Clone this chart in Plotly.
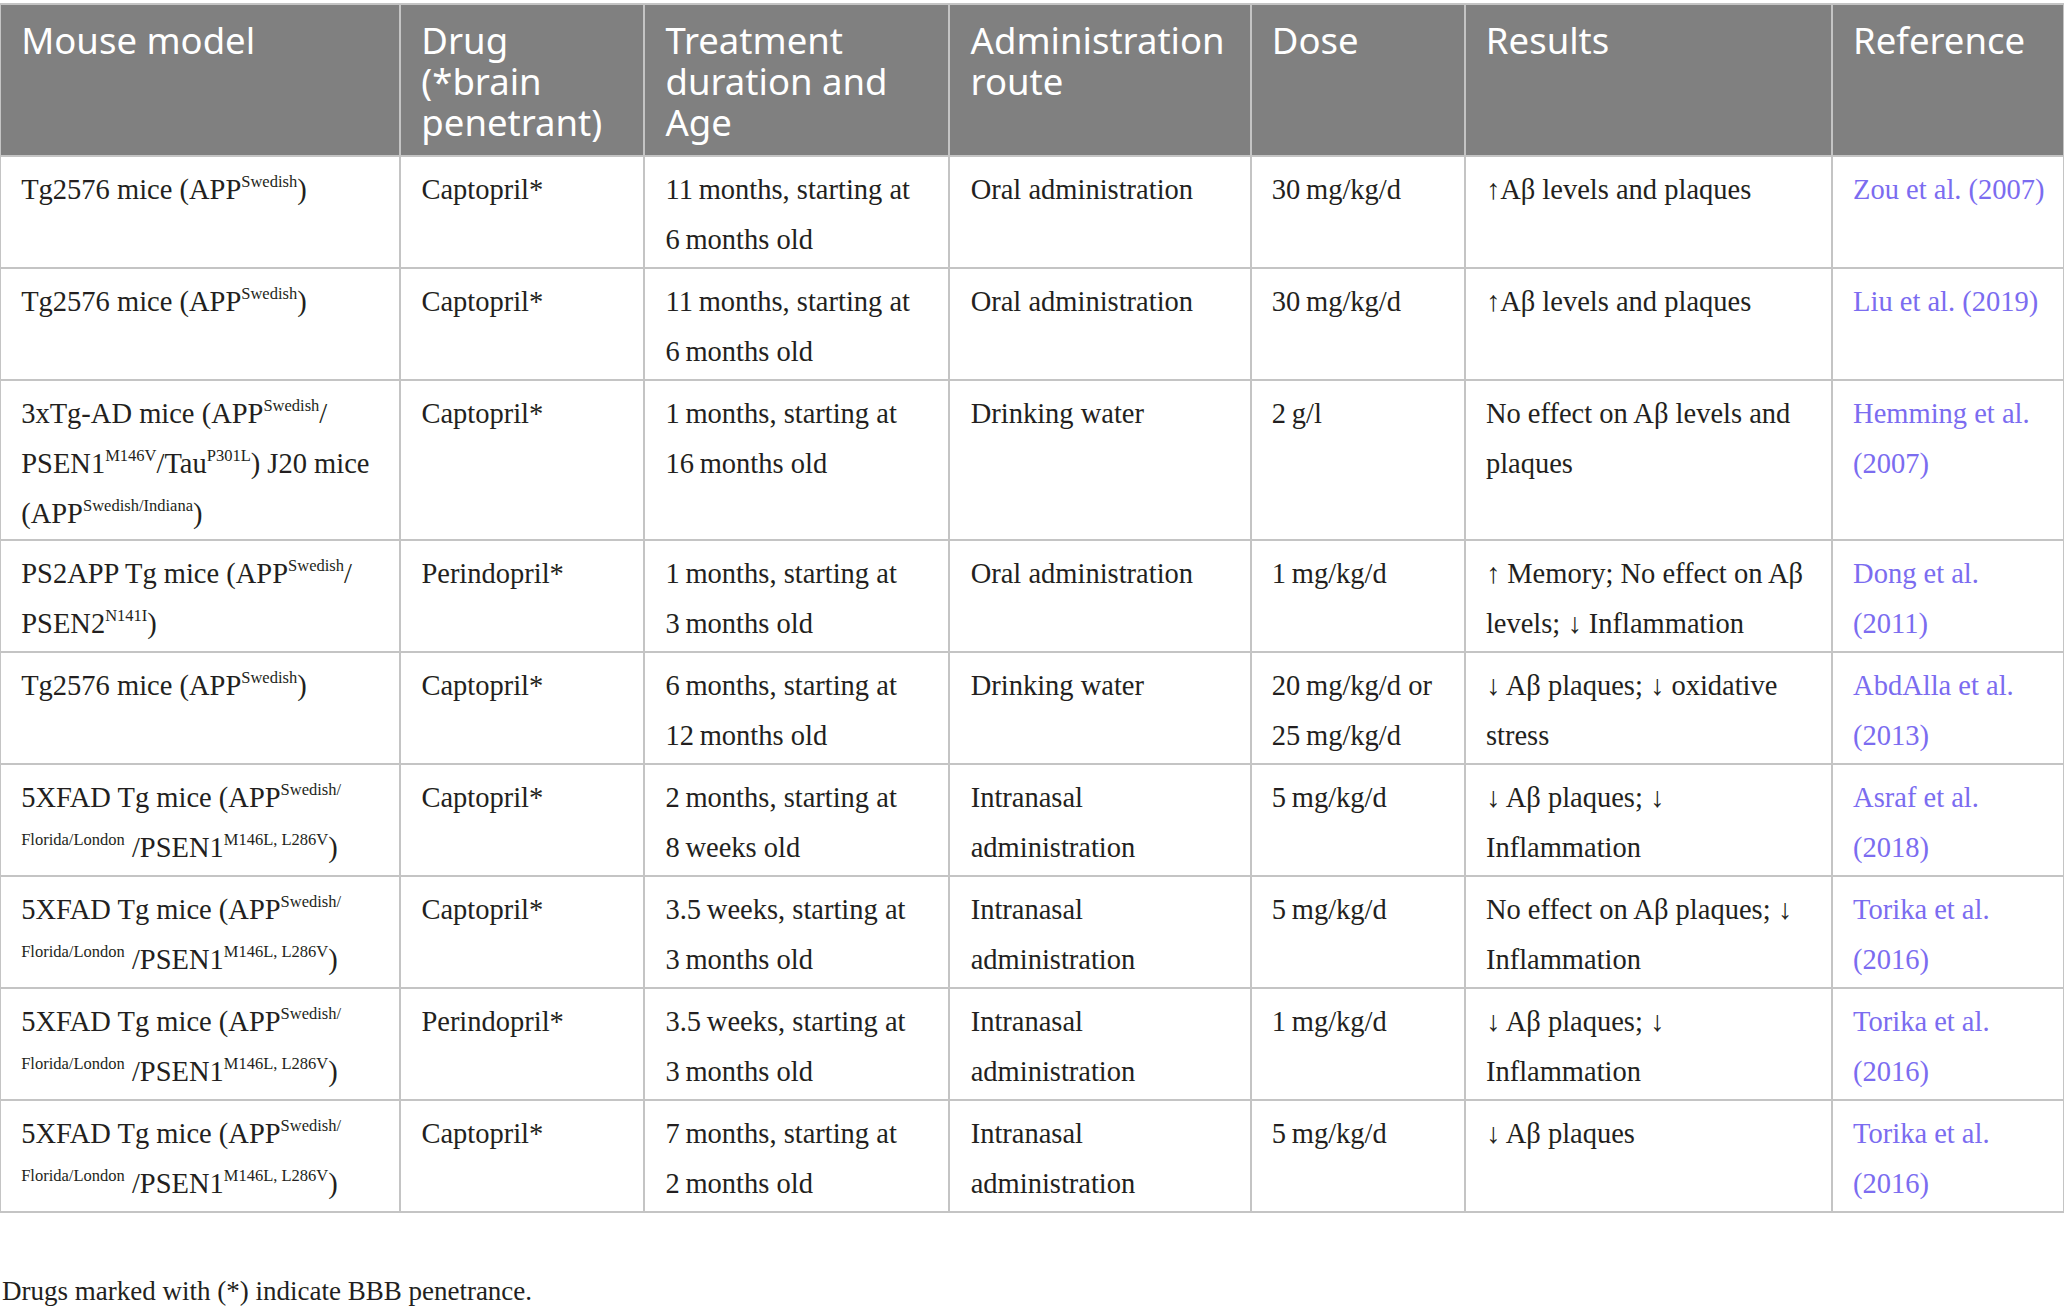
import plotly.graph_objects as go

# table content, one list per column
headers = ["Mouse model", "Drug<br>(*brain<br>penetrant)", "Treatment<br>duration and<br>Age",
           "Administration<br>route", "Dose", "Results", "Reference"]

mouse_model = [
    "Tg2576 mice (APP<sup>Swedish</sup>)",
    "Tg2576 mice (APP<sup>Swedish</sup>)",
    "3xTg-AD mice (APP<sup>Swedish</sup>/<br>PSEN1<sup>M146V</sup>/Tau<sup>P301L</sup>) J20 mice<br>(APP<sup>Swedish/Indiana</sup>)",
    "PS2APP Tg mice (APP<sup>Swedish</sup>/<br>PSEN2<sup>N141I</sup>)",
    "Tg2576 mice (APP<sup>Swedish</sup>)",
    "5XFAD Tg mice (APP<sup>Swedish/</sup><br><sup>Florida/London</sup> /PSEN1<sup>M146L, L286V</sup>)",
    "5XFAD Tg mice (APP<sup>Swedish/</sup><br><sup>Florida/London</sup> /PSEN1<sup>M146L, L286V</sup>)",
    "5XFAD Tg mice (APP<sup>Swedish/</sup><br><sup>Florida/London</sup> /PSEN1<sup>M146L, L286V</sup>)",
    "5XFAD Tg mice (APP<sup>Swedish/</sup><br><sup>Florida/London</sup> /PSEN1<sup>M146L, L286V</sup>)",
]
drugs = ["Captopril*", "Captopril*", "Captopril*", "Perindopril*", "Captopril*",
         "Captopril*", "Captopril*", "Perindopril*", "Captopril*"]
durations = [
    "11\u2009months, starting at<br>6\u2009months old",
    "11\u2009months, starting at<br>6\u2009months old",
    "1\u2009months, starting at<br>16\u2009months old",
    "1\u2009months, starting at<br>3\u2009months old",
    "6\u2009months, starting at<br>12\u2009months old",
    "2\u2009months, starting at<br>8\u2009weeks old",
    "3.5\u2009weeks, starting at<br>3\u2009months old",
    "3.5\u2009weeks, starting at<br>3\u2009months old",
    "7\u2009months, starting at<br>2\u2009months old",
]
routes = ["Oral administration", "Oral administration", "Drinking water", "Oral administration",
          "Drinking water", "Intranasal<br>administration", "Intranasal<br>administration",
          "Intranasal<br>administration", "Intranasal<br>administration"]
doses = ["30\u2009mg/kg/d", "30\u2009mg/kg/d", "2\u2009g/l", "1\u2009mg/kg/d",
         "20\u2009mg/kg/d or<br>25\u2009mg/kg/d", "5\u2009mg/kg/d", "5\u2009mg/kg/d",
         "1\u2009mg/kg/d", "5\u2009mg/kg/d"]
results = [
    "↑Aβ levels and plaques",
    "↑Aβ levels and plaques",
    "No effect on Aβ levels and<br>plaques",
    "↑ Memory; No effect on Aβ<br>levels; ↓ Inflammation",
    "↓ Aβ plaques; ↓ oxidative<br>stress",
    "↓ Aβ plaques; ↓<br>Inflammation",
    "No effect on Aβ plaques; ↓<br>Inflammation",
    "↓ Aβ plaques; ↓<br>Inflammation",
    "↓ Aβ plaques",
]
references = ["Zou et al. (2007)", "Liu et al. (2019)", "Hemming et al.<br>(2007)",
              "Dong et al.<br>(2011)", "AbdAlla et al.<br>(2013)", "Asraf et al.<br>(2018)",
              "Torika et al.<br>(2016)", "Torika et al.<br>(2016)", "Torika et al.<br>(2016)"]
footnote = "Drugs marked with (*) indicate BBB penetrance."

col_widths = [400, 244, 305, 301, 214, 367, 232]

BODY_SIZE = 28.5
HEAD_SIZE = 36.5
SUP_SIZE = 16.5
# leading space: gives the left inset, and its taller box pushes the first line down
BODY_INDENT = '<span style="font-size:39.5px">\u2004</span>'
HEAD_INDENT = '<span style="font-size:39.5px">\u2004</span>'


def styled(text, size, indent):
    # wrap every line in a sized span; the outer font size drives the line pitch
    text = (text.replace("<sup>", f'<sup><span style="font-size:{SUP_SIZE}px">')
                .replace("</sup>", "</span></sup>"))
    lines = text.split("<br>")
    out = "<br>".join(indent + f'<span style="font-size:{size}px">{ln}</span>' for ln in lines)
    if len(lines) == 1:
        out += "<br>"  # keeps plotly from auto-wrapping the markup
    return out


columns = [mouse_model, drugs, durations, routes, doses, results, references]
cell_values = [[styled(t, BODY_SIZE, BODY_INDENT) for t in col] for col in columns]
header_values = [styled(h, HEAD_SIZE, HEAD_INDENT) for h in headers]

fig = go.Figure(go.Table(
    columnwidth=col_widths,
    header=dict(
        values=header_values,
        fill_color="#808080",
        line=dict(color="#c4c4c4", width=2),
        align="left",
        height=152,
        font=dict(family="Noto Sans", size=41 / 1.3, color="white"),
    ),
    cells=dict(
        values=cell_values,
        fill_color="white",
        line=dict(color="#c4c4c4", width=2),
        align="left",
        height=112,
        font=dict(family="Liberation Serif", size=50 / 1.3,
                  color=["#231f20"] * 6 + ["#7b6cf0"]),
    ),
    domain=dict(x=[0, 1], y=[0, 1]),
))

fig.add_annotation(
    text=footnote, xref="paper", yref="paper", x=0, y=0.019,
    xanchor="left", yanchor="middle", showarrow=False,
    font=dict(family="Liberation Serif", size=27, color="#231f20"),
)

fig.update_layout(
    width=2064, height=1316,
    margin=dict(l=0, r=0, t=4, b=0),
    paper_bgcolor="white",
)

fig.write_html("out.html", config={"displayModeBar": False},
               post_script="document.body.style.margin='0';")
